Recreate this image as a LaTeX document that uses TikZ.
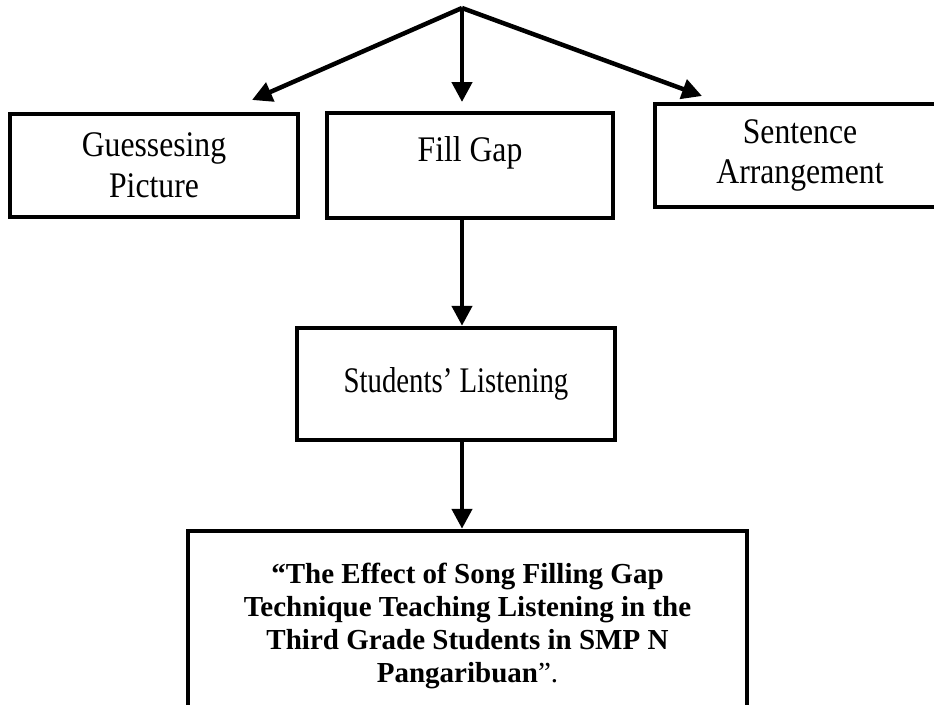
\documentclass[tikz,border=0pt]{standalone}
\usepackage{fontspec}
\setmainfont{Liberation Serif}
\newfontfamily\ufont[FakeStretch=0.88]{Liberation Serif}
\newfontfamily\stfont[FakeStretch=0.80]{Liberation Serif}
\usetikzlibrary{arrows.meta}
\begin{document}
\begin{tikzpicture}[x=1pt,y=-1pt,
  box/.style={draw,line width=4.5pt,inner sep=0pt,align=center,font=\ufont\fontsize{36}{41}\selectfont},
  arr/.style={line width=4.5pt,-{Triangle[length=20pt,width=20pt]}}]
\useasboundingbox (0,0) rectangle (934,704);
\coordinate (apex) at (462,8);
\coordinate (tl) at (252,100);
\coordinate (tc) at (462,102);
\coordinate (tr) at (702,96);
\node[box,minimum width=288pt,minimum height=103pt] (guess) at (154,165.5) {Guessesing\\Picture};
\node[box,minimum width=286pt,minimum height=105pt] (fill) at (470,165.5) {Fill Gap\\[-8pt]\mbox{}};
\node[box,minimum width=290pt,minimum height=103pt,font=\ufont\fontsize{36}{40}\selectfont] (sent) at (800,155.5) {Sentence\\Arrangement};
\node[box,minimum width=318pt,minimum height=112pt,font=\stfont\fontsize{36}{41}\selectfont] (stud) at (456,384) {Students’ Listening};
\node[box,minimum width=559pt,minimum height=190pt,font=\fontsize{29}{33}\selectfont] (res) at (467.5,626)
  {{\bfseries “The Effect of Song Filling Gap}\\{\bfseries Technique Teaching Listening in the}\\{\bfseries Third Grade Students in SMP N}\\{\bfseries Pangaribuan}”.};
\draw[arr] (apex) -- (tl);
\draw[arr] (apex) -- (tc);
\draw[arr] (apex) -- (tr);
\draw[arr] (fill.south -| apex) -- (stud.north -| apex);
\draw[arr] (stud.south -| apex) -- (res.north -| apex);
\end{tikzpicture}
\end{document}
